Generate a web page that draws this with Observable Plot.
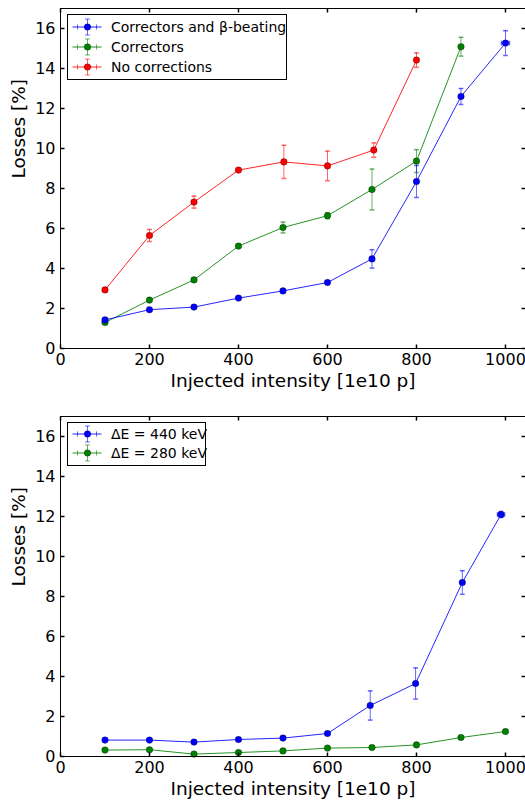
<!DOCTYPE html>
<html><head><meta charset="utf-8">
<script src="https://cdn.jsdelivr.net/npm/d3@7"></script>
<script src="https://cdn.jsdelivr.net/npm/@observablehq/plot@0.6"></script>
<style>
body{margin:0;background:#fff;font-family:"DejaVu Sans",sans-serif;}
#wrap{position:relative;width:525px;height:801px;overflow:hidden;background:#fff;}
#wrap svg.plot{display:block;}
.legend{position:absolute;border:1px solid #000;background:#fff;box-sizing:border-box;font-size:14px;color:#000;}
.legend .row{position:absolute;left:0;height:20px;width:100%;}
.legend .row svg{position:absolute;left:0;top:0;}
.legend .row span{position:absolute;left:43px;top:0;line-height:20px;white-space:nowrap;}
</style></head><body><div id="wrap"></div>
<script>
// ---------- data ----------
const xTicks = [0, 200, 400, 600, 800, 1000];
const yTicks = [0, 2, 4, 6, 8, 10, 12, 14, 16];
const xLabel = "Injected intensity [1e10 p]";
const yLabel = "Losses [%]";

// top panel
const topNames = ["Correctors and β-beating", "Correctors", "No corrections"];
const topColors = ["#0000ff", "#008000", "#ff0000"];
const topBlueX = [100, 200, 300, 400, 500, 600, 700, 800, 900, 1000];
const topBlueY = [1.43, 1.94, 2.07, 2.52, 2.88, 3.30, 4.48, 8.35, 12.6, 15.27];
const topBlueErr = [0.05, 0.05, 0.05, 0.06, 0.05, 0.06, 0.46, 0.80, 0.40, 0.62];
const topBlueXErr = [0, 0, 0, 0, 0, 0, 0, 0, 0, 9];
const topGreenX = [100, 200, 300, 400, 500, 600, 700, 800, 900];
const topGreenY = [1.30, 2.42, 3.43, 5.12, 6.05, 6.64, 7.95, 9.37, 15.09];
const topGreenErr = [0.05, 0.05, 0.08, 0.08, 0.27, 0.15, 1.02, 0.57, 0.47];
const topGreenXErr = [0, 0, 0, 0, 0, 0, 0, 0, 0];
const topRedX = [100, 200, 300, 400, 502, 600, 704, 800];
const topRedY = [2.93, 5.65, 7.32, 8.92, 9.33, 9.13, 9.92, 14.42];
const topRedErr = [0.08, 0.30, 0.30, 0.08, 0.83, 0.74, 0.36, 0.36];
const topRedXErr = [0, 0, 0, 0, 0, 0, 0, 0];

// bottom panel
const botNames = ["ΔE = 440 keV", "ΔE = 280 keV"];
const botColors = ["#0000ff", "#008000"];
const bot440X = [100, 200, 300, 400, 500, 600, 696, 798, 903, 990];
const bot440Y = [0.82, 0.82, 0.72, 0.85, 0.92, 1.15, 2.55, 3.65, 8.70, 12.1];
const bot440Err = [0.05, 0.05, 0.05, 0.05, 0.05, 0.05, 0.73, 0.78, 0.59, 0.15];
const bot440XErr = [0, 0, 0, 0, 0, 0, 0, 0, 0, 8];
const bot280X = [100, 200, 300, 400, 500, 600, 700, 800, 900, 1000];
const bot280Y = [0.32, 0.34, 0.12, 0.20, 0.28, 0.42, 0.45, 0.58, 0.95, 1.25];
const bot280Err = [0.03, 0.03, 0.03, 0.03, 0.03, 0.03, 0.03, 0.03, 0.03, 0.03];
const bot280XErr = [0, 0, 0, 0, 0, 0, 0, 0, 0, 0];

// ---------- helpers ----------
function rows(xs, ys, es, xes) {
  return xs.map((x, i) => ({x, y: ys[i], err: es[i], xerr: xes[i]}));
}
const hLine = {draw(ctx, size) { const r = Math.sqrt(size / Math.PI); ctx.moveTo(-r, 0); ctx.lineTo(r, 0); }};
const vLine = {draw(ctx, size) { const r = Math.sqrt(size / Math.PI); ctx.moveTo(0, -r); ctx.lineTo(0, r); }};

function seriesMarks(data, color) {
  const xe = data.filter(d => d.xerr > 0);
  return [
    Plot.ruleX(data, {x: "x", y1: d => d.y - d.err, y2: d => d.y + d.err, stroke: color, strokeOpacity: 0.6}),
    Plot.dot(data, {x: "x", y: d => d.y + d.err, symbol: hLine, r: 2.4, stroke: color, strokeOpacity: 0.6, fill: "none"}),
    Plot.dot(data, {x: "x", y: d => d.y - d.err, symbol: hLine, r: 2.4, stroke: color, strokeOpacity: 0.6, fill: "none"}),
    Plot.ruleY(xe, {y: "y", x1: d => d.x - d.xerr, x2: d => d.x + d.xerr, stroke: color, strokeOpacity: 0.6}),
    Plot.dot(xe, {x: d => d.x - d.xerr, y: "y", symbol: vLine, r: 2.4, stroke: color, strokeOpacity: 0.6, fill: "none"}),
    Plot.dot(xe, {x: d => d.x + d.xerr, y: "y", symbol: vLine, r: 2.4, stroke: color, strokeOpacity: 0.6, fill: "none"}),
    Plot.line(data, {x: "x", y: "y", stroke: color, strokeWidth: 1, strokeOpacity: 0.85}),
    Plot.dot(data, {x: "x", y: "y", r: 3.3, fill: color, stroke: "#000", strokeWidth: 0.5, strokeOpacity: 0.6})
  ];
}

function panel(seriesList, {height, marginTop, marginBottom}) {
  return Plot.plot({
    width: 525, height, marginTop, marginBottom, marginLeft: 60, marginRight: 0,
    style: {fontFamily: "'DejaVu Sans', sans-serif", fontSize: "16px", color: "#000", background: "#fff"},
    x: {domain: [0, 1045]},
    y: {domain: [0, 17]},
    marks: [
      ...seriesList.flatMap(s => seriesMarks(s.data, s.color)),
      Plot.frame({stroke: "#000", strokeWidth: 1}),
      Plot.dotX(xTicks, {frameAnchor: "bottom", symbol: vLine, r: 2, dy: -2, stroke: "#000", fill: "none"}),
      Plot.dotX(xTicks, {frameAnchor: "top", symbol: vLine, r: 2, dy: 2, stroke: "#000", fill: "none"}),
      Plot.dotY(yTicks, {frameAnchor: "left", symbol: hLine, r: 2, dx: 2, stroke: "#000", fill: "none"}),
      Plot.dotY(yTicks, {frameAnchor: "right", symbol: hLine, r: 2, dx: -2, stroke: "#000", fill: "none"}),
      Plot.axisX(xTicks, {anchor: "bottom", tickSize: 0, tickPadding: 5, label: null, fontSize: 16, tickFormat: d => String(d)}),
      Plot.axisY(yTicks, {anchor: "left", tickSize: 0, tickPadding: 5, label: null, fontSize: 16, tickFormat: d => String(d)}),
      Plot.text([xLabel], {text: d => d, frameAnchor: "bottom", dy: 33, fontSize: 18.5, lineAnchor: "middle"}),
      Plot.text([yLabel], {text: d => d, frameAnchor: "left", dx: -41, rotate: -90, fontSize: 18.5, lineAnchor: "middle"})
    ]
  });
}

function legendSymbol(color) {
  const ns = "http://www.w3.org/2000/svg";
  const svg = document.createElementNS(ns, "svg");
  svg.setAttribute("width", 40); svg.setAttribute("height", 20);
  const c = 10, m = 19.5;
  svg.innerHTML =
    `<g stroke="${color}" fill="none">` +
    `<line x1="4.5" x2="33.5" y1="${c}" y2="${c}" stroke-opacity="0.85"/>` +
    `<g stroke-opacity="0.6">` +
    `<line x1="${m}" x2="${m}" y1="${c - 8}" y2="${c + 8}"/>` +
    `<line x1="${m - 2.4}" x2="${m + 2.4}" y1="${c - 8}" y2="${c - 8}"/>` +
    `<line x1="${m - 2.4}" x2="${m + 2.4}" y1="${c + 8}" y2="${c + 8}"/>` +
    `<line x1="9.5" x2="9.5" y1="${c - 2.6}" y2="${c + 2.6}"/>` +
    `<line x1="28.5" x2="28.5" y1="${c - 2.6}" y2="${c + 2.6}"/>` +
    `</g></g>` +
    `<circle cx="${m}" cy="${c}" r="3.3" fill="${color}" stroke="#000" stroke-width="0.5" stroke-opacity="0.6"/>`;
  return svg;
}

function legend(names, colors, {left, top, width, height, rowTops}) {
  const box = document.createElement("div");
  box.className = "legend";
  Object.assign(box.style, {left: left + "px", top: top + "px", width: width + "px", height: height + "px"});
  names.forEach((n, i) => {
    const row = document.createElement("div");
    row.className = "row";
    row.style.top = rowTops[i] + "px";
    row.appendChild(legendSymbol(colors[i]));
    const sp = document.createElement("span");
    sp.textContent = n;
    row.appendChild(sp);
    box.appendChild(row);
  });
  return box;
}

// ---------- build ----------
const wrap = document.getElementById("wrap");
const topPlot = panel([
  {data: rows(topRedX, topRedY, topRedErr, topRedXErr), color: topColors[2]},
  {data: rows(topGreenX, topGreenY, topGreenErr, topGreenXErr), color: topColors[1]},
  {data: rows(topBlueX, topBlueY, topBlueErr, topBlueXErr), color: topColors[0]}
], {height: 400, marginTop: 8, marginBottom: 52});
topPlot.classList.add("plot");
wrap.appendChild(topPlot);

const botPlot = panel([
  {data: rows(bot280X, bot280Y, bot280Err, bot280XErr), color: botColors[1]},
  {data: rows(bot440X, bot440Y, bot440Err, bot440XErr), color: botColors[0]}
], {height: 401, marginTop: 16, marginBottom: 45});
botPlot.classList.add("plot");
wrap.appendChild(botPlot);

wrap.appendChild(legend(topNames, topColors, {left: 67, top: 14, width: 220, height: 66, rowTops: [1.5, 22, 42]}));
wrap.appendChild(legend(botNames, botColors, {left: 67, top: 422, width: 139, height: 44, rowTops: [1, 20]}));
</script>
</body></html>
